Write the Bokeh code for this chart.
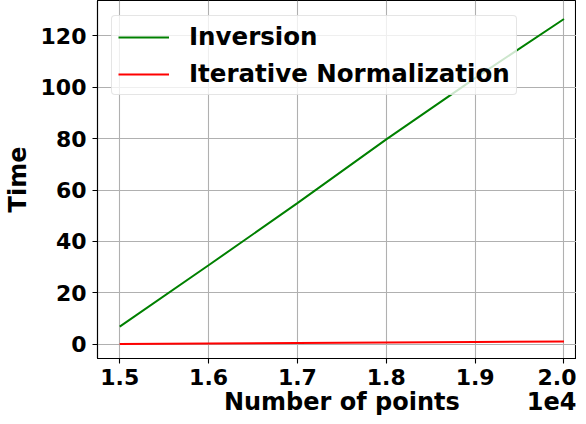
from bokeh.plotting import figure
from bokeh.models import Range1d, FixedTicker, Legend, LegendItem, LinearAxis
from bokeh.embed import file_html
from bokeh.resources import INLINE

n_points = [15000, 16000, 17000, 18000, 19000, 20000]
inversion = [6.8, 30.7, 54.9, 79.7, 103.6, 126.6]
iterative = [0.0, 0.2, 0.4, 0.6, 0.8, 1.0]

x_ticks = [15000, 16000, 17000, 18000, 19000, 20000]
x_tick_labels = ["1.5", "1.6", "1.7", "1.8", "1.9", "2.0"]
y_ticks = [0, 20, 40, 60, 80, 100, 120]
x_label = "Number of points"
offset_text = "1e4"

FONT = "DejaVu Sans"
X_START, X_END = 14750, 20141
Y_START, Y_END = -5.6, 133.8

p = figure(width=576, height=418, output_backend="svg", toolbar_location=None,
           x_range=Range1d(X_START, X_END), y_range=Range1d(Y_START, Y_END),
           min_border_left=89, min_border_right=0, min_border_top=0, min_border_bottom=0)
p.background_fill_color = "white"
p.border_fill_color = "white"
p.outline_line_color = "black"
p.outline_line_width = 1.1

g = p.line(n_points, inversion, line_color="green", line_width=2)
r = p.line(n_points, iterative, line_color="red", line_width=2)

for ax in (p.xaxis[0], p.yaxis[0]):
    ax.major_label_text_font = FONT
    ax.major_label_text_font_style = "bold"
    ax.major_label_text_font_size = "22px"
    ax.major_label_text_color = "black"
    ax.axis_label_text_font = FONT
    ax.axis_label_text_font_style = "bold"
    ax.axis_label_text_font_size = "24px"
    ax.axis_label_text_color = "black"
    ax.major_tick_out = 5
    ax.major_tick_in = 0
    ax.minor_tick_out = 0
    ax.minor_tick_in = 0
    ax.major_tick_line_color = "black"
    ax.major_tick_line_width = 1.1
    ax.axis_line_color = "black"
    ax.axis_line_width = 1.1

p.xaxis[0].ticker = FixedTicker(ticks=x_ticks)
p.xaxis[0].major_label_overrides = {t: s for t, s in zip(x_ticks, x_tick_labels)}
p.xaxis[0].major_label_standoff = 5
p.yaxis[0].ticker = FixedTicker(ticks=y_ticks)
p.yaxis[0].axis_label = "Time"
p.yaxis[0].major_label_standoff = 6
p.yaxis[0].axis_label_standoff = 6

# second row below the ticks: axis title and the "1e4" offset text at the right
label_pos = 17500
offset_pos = 19963
ax2 = LinearAxis(ticker=FixedTicker(ticks=[label_pos, offset_pos]),
                 major_label_overrides={label_pos: x_label, offset_pos: offset_text})
ax2.axis_line_color = None
ax2.major_tick_line_color = None
ax2.minor_tick_line_color = None
ax2.major_tick_out = 0
ax2.major_tick_in = 0
ax2.minor_tick_out = 0
ax2.minor_tick_in = 0
ax2.major_label_standoff = 0
ax2.major_label_text_font = FONT
ax2.major_label_text_font_style = "bold"
ax2.major_label_text_font_size = "24px"
ax2.major_label_text_color = "black"
p.add_layout(ax2, "below")

p.xgrid.grid_line_color = "#b0b0b0"
p.ygrid.grid_line_color = "#b0b0b0"
p.xgrid.grid_line_width = 1.1
p.ygrid.grid_line_width = 1.1

legend = Legend(items=[LegendItem(label="Inversion", renderers=[g]),
                       LegendItem(label="Iterative Normalization", renderers=[r])],
                location=(14, 263))
legend.label_text_font = FONT
legend.label_text_font_style = "bold"
legend.label_text_font_size = "24.5px"
legend.label_text_color = "black"
legend.glyph_width = 51
legend.glyph_height = 28
legend.label_height = 28
legend.label_standoff = 20
legend.spacing = 8
legend.padding = 6
legend.border_line_color = "#cccccc"
legend.border_line_width = 1
legend.background_fill_alpha = 0.8
if "border_radius" in Legend.properties():
    legend.border_radius = 4
p.add_layout(legend)

open("out.html", "w").write(file_html(p, INLINE))
